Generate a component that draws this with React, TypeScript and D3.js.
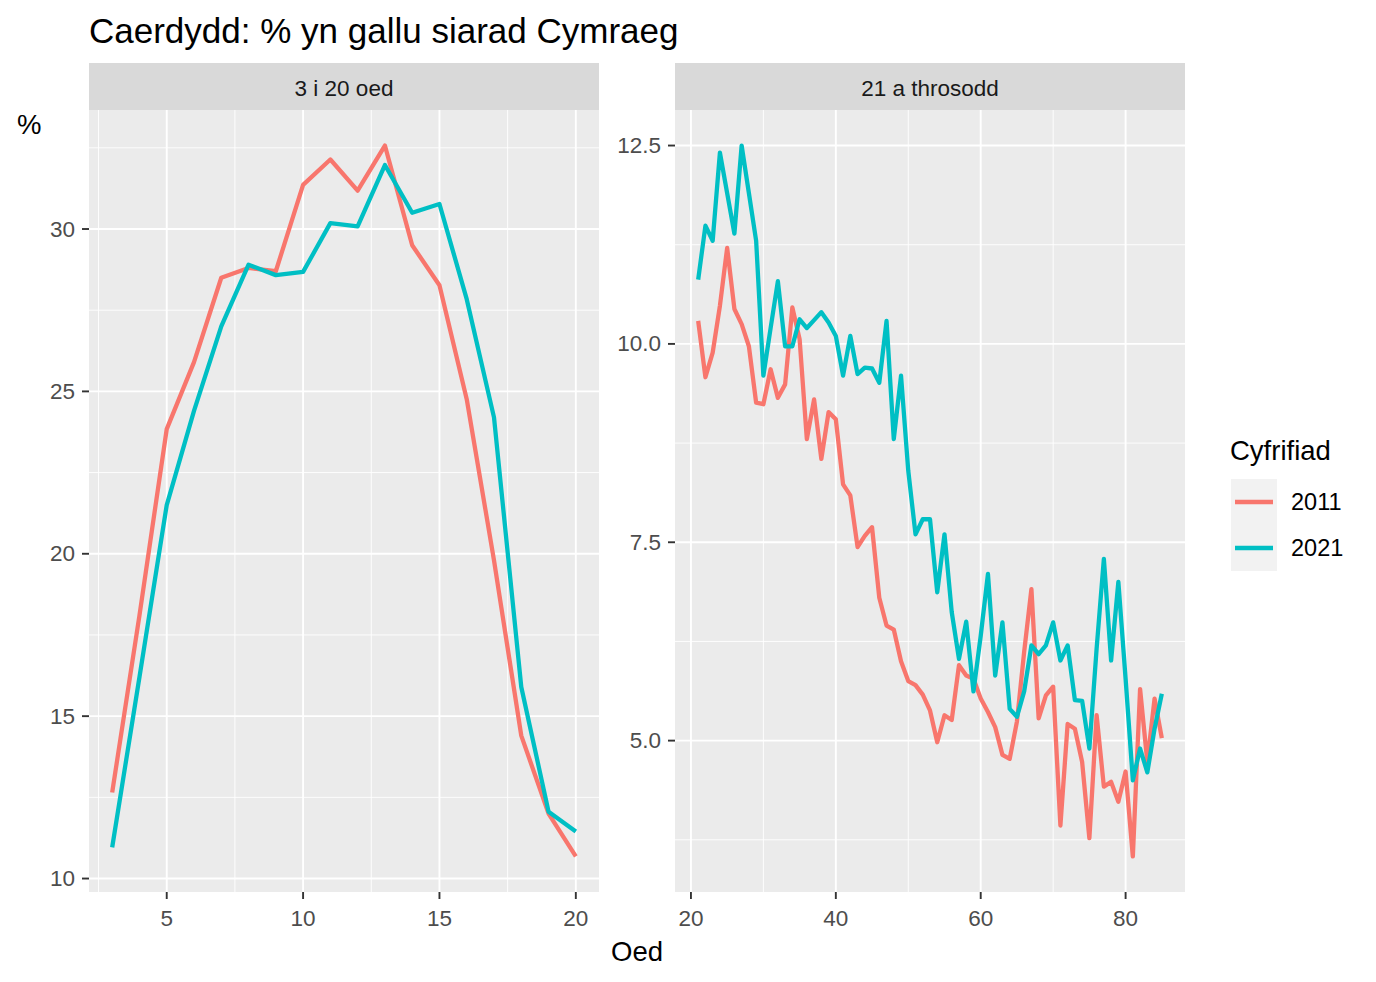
import React from "react";
import * as d3 from "d3";

const title = "Caerdydd: % yn gallu siarad Cymraeg";
const facetLabels = ["3 i 20 oed", "21 a throsodd"];
const seriesNames = ["2011", "2021"];
const seriesColors = ["#F8766D", "#00BFC4"];

const youngAges = [3, 4, 5, 6, 7, 8, 9, 10, 11, 12, 13, 14, 15, 16, 17, 18, 19, 20];
const young2011 = [12.65, 18.1, 23.84, 25.9, 28.5, 28.8, 28.7, 31.36, 32.14, 31.18, 32.57, 29.5, 28.27, 24.76, 19.8, 14.4, 12.0, 10.68];
const young2021 = [10.96, 16.2, 21.5, 24.4, 27.0, 28.9, 28.58, 28.68, 30.18, 30.08, 31.97, 30.5, 30.77, 27.84, 24.2, 15.9, 12.06, 11.45];

const oldAges = [
  21, 22, 23, 24, 25, 26, 27, 28, 29, 30, 31, 32, 33, 34, 35, 36, 37, 38, 39, 40,
  41, 42, 43, 44, 45, 46, 47, 48, 49, 50, 51, 52, 53, 54, 55, 56, 57, 58, 59, 60,
  61, 62, 63, 64, 65, 66, 67, 68, 69, 70, 71, 72, 73, 74, 75, 76, 77, 78, 79, 80,
  81, 82, 83, 84, 85,
];
const old2011 = [
  10.29, 9.58, 9.89, 10.48, 11.21, 10.44, 10.25, 9.97, 9.26, 9.24, 9.68, 9.32, 9.49, 10.46, 10.06, 8.8, 9.3, 8.55, 9.14, 9.05,
  8.23, 8.09, 7.44, 7.58, 7.69, 6.8, 6.45, 6.4, 6.0, 5.75, 5.7, 5.58, 5.38, 4.98, 5.32, 5.26, 5.95, 5.82, 5.78, 5.53,
  5.36, 5.17, 4.82, 4.77, 5.24, 6.12, 6.91, 5.28, 5.57, 5.68, 3.93, 5.21, 5.15, 4.73, 3.77, 5.32, 4.42, 4.48, 4.23, 4.61,
  3.54, 5.65, 4.73, 5.53, 5.03,
];
const old2021 = [
  10.81, 11.49, 11.3, 12.41, 11.9, 11.39, 12.5, 11.9, 11.3, 9.6, 10.2, 10.79, 9.97, 9.97, 10.31, 10.2, 10.3, 10.4, 10.27, 10.1,
  9.6, 10.1, 9.62, 9.7, 9.69, 9.51, 10.29, 8.8, 9.6, 8.4, 7.6, 7.79, 7.79, 6.87, 7.6, 6.62, 6.03, 6.5, 5.62, 6.32,
  7.1, 5.82, 6.49, 5.4, 5.3, 5.62, 6.2, 6.09, 6.2, 6.49, 6.01, 6.2, 5.51, 5.5, 4.9, 6.16, 7.29, 6.01, 7.0, 5.78,
  4.5, 4.9, 4.6, 5.15, 5.59,
];

const youngXTicks = [5, 10, 15, 20];
const youngYTicks = [10, 15, 20, 25, 30];
const oldXTicks = [20, 40, 60, 80];
const oldYTicks = [5.0, 7.5, 10.0, 12.5];

const FONT = "'Liberation Sans', Arial, Helvetica, sans-serif";

function expand(ext: [number, number]): [number, number] {
  const pad = (ext[1] - ext[0]) * 0.05;
  return [ext[0] - pad, ext[1] + pad];
}

type PanelProps = {
  x0: number;
  x1: number;
  label: string;
  ages: number[];
  series: number[][];
  xTicks: number[];
  yTicks: number[];
  yFmt: (v: number) => string;
};

const STRIP_TOP = 63;
const PANEL_TOP = 110;
const PANEL_BOTTOM = 892;

function Panel({ x0, x1, label, ages, series, xTicks, yTicks, yFmt }: PanelProps) {
  const allVals = series.flat();
  const x = d3.scaleLinear().domain(expand(d3.extent(ages) as [number, number])).range([x0, x1]);
  const y = d3
    .scaleLinear()
    .domain(expand(d3.extent(allVals) as [number, number]))
    .range([PANEL_BOTTOM, PANEL_TOP]);
  const [xd0, xd1] = x.domain();
  const [yd0, yd1] = y.domain();
  const xStep = xTicks[1] - xTicks[0];
  const yStep = yTicks[1] - yTicks[0];
  const xMinor: number[] = [];
  for (let v = xTicks[0] - xStep / 2; v <= xd1; v += xStep) if (v >= xd0) xMinor.push(v);
  const yMinor: number[] = [];
  for (let v = yTicks[0] - yStep / 2; v <= yd1; v += yStep) if (v >= yd0) yMinor.push(v);
  const line = d3
    .line<number>()
    .x((_, i) => x(ages[i]))
    .y((d) => y(d));
  return (
    <g>
      <rect x={x0} y={STRIP_TOP} width={x1 - x0} height={PANEL_TOP - STRIP_TOP} fill="#D9D9D9" />
      <text
        x={(x0 + x1) / 2}
        y={(STRIP_TOP + PANEL_TOP) / 2 + 2}
        textAnchor="middle"
        dominantBaseline="central"
        fontSize={22.5}
        fill="#1A1A1A"
        fontFamily={FONT}
      >
        {label}
      </text>
      <rect x={x0} y={PANEL_TOP} width={x1 - x0} height={PANEL_BOTTOM - PANEL_TOP} fill="#EBEBEB" />
      {xMinor.map((v) => (
        <line key={"xm" + v} x1={x(v)} x2={x(v)} y1={PANEL_TOP} y2={PANEL_BOTTOM} stroke="#fff" strokeWidth={0.9} />
      ))}
      {yMinor.map((v) => (
        <line key={"ym" + v} x1={x0} x2={x1} y1={y(v)} y2={y(v)} stroke="#fff" strokeWidth={0.9} />
      ))}
      {xTicks.map((v) => (
        <line key={"xM" + v} x1={x(v)} x2={x(v)} y1={PANEL_TOP} y2={PANEL_BOTTOM} stroke="#fff" strokeWidth={1.9} />
      ))}
      {yTicks.map((v) => (
        <line key={"yM" + v} x1={x0} x2={x1} y1={y(v)} y2={y(v)} stroke="#fff" strokeWidth={1.9} />
      ))}
      {series.map((s, i) => (
        <path
          key={"s" + i}
          d={line(s) || ""}
          fill="none"
          stroke={seriesColors[i]}
          strokeWidth={4.3}
          strokeLinejoin="round"
          strokeLinecap="butt"
        />
      ))}
      {xTicks.map((v) => (
        <g key={"xt" + v}>
          <line x1={x(v)} x2={x(v)} y1={PANEL_BOTTOM} y2={PANEL_BOTTOM + 7} stroke="#333333" strokeWidth={1.9} />
          <text
            x={x(v)}
            y={PANEL_BOTTOM + 26}
            textAnchor="middle"
            dominantBaseline="central"
            fontSize={22.5}
            fill="#4D4D4D"
            fontFamily={FONT}
          >
            {String(v)}
          </text>
        </g>
      ))}
      {yTicks.map((v) => (
        <g key={"yt" + v}>
          <line x1={x0 - 7} x2={x0} y1={y(v)} y2={y(v)} stroke="#333333" strokeWidth={1.9} />
          <text
            x={x0 - 14}
            y={y(v)}
            textAnchor="end"
            dominantBaseline="central"
            fontSize={22.5}
            fill="#4D4D4D"
            fontFamily={FONT}
          >
            {yFmt(v)}
          </text>
        </g>
      ))}
    </g>
  );
}

export default function App() {
  const W = 1376;
  const H = 982;
  return (
    <svg
      width={W}
      height={H}
      style={{ position: "absolute", left: 0, top: 0, background: "#fff" }}
      fontFamily={FONT}
    >
      <rect x={0} y={0} width={W} height={H} fill="#fff" />
      <text x={89} y={30} dominantBaseline="central" fontSize={35} fill="#000">
        {title}
      </text>
      <text x={17} y={124} dominantBaseline="central" fontSize={27.5} fill="#000">
        %
      </text>
      <Panel
        x0={89}
        x1={599}
        label={facetLabels[0]}
        ages={youngAges}
        series={[young2011, young2021]}
        xTicks={youngXTicks}
        yTicks={youngYTicks}
        yFmt={(v) => String(v)}
      />
      <Panel
        x0={675}
        x1={1185}
        label={facetLabels[1]}
        ages={oldAges}
        series={[old2011, old2021]}
        xTicks={oldXTicks}
        yTicks={oldYTicks}
        yFmt={(v) => v.toFixed(1)}
      />
      <text x={637} y={951} textAnchor="middle" dominantBaseline="central" fontSize={27.5} fill="#000">
        Oed
      </text>
      <g>
        <text x={1230} y={450} dominantBaseline="central" fontSize={27.5} fill="#000">
          Cyfrifiad
        </text>
        <rect x={1231} y={479} width={46} height={92} fill="#F2F2F2" />
        {seriesNames.map((n, i) => (
          <g key={n}>
            <line
              x1={1235}
              x2={1273}
              y1={502 + i * 46}
              y2={502 + i * 46}
              stroke={seriesColors[i]}
              strokeWidth={4.3}
            />
            <text x={1291} y={502 + i * 46} dominantBaseline="central" fontSize={23.5} fill="#000">
              {n}
            </text>
          </g>
        ))}
      </g>
    </svg>
  );
}
